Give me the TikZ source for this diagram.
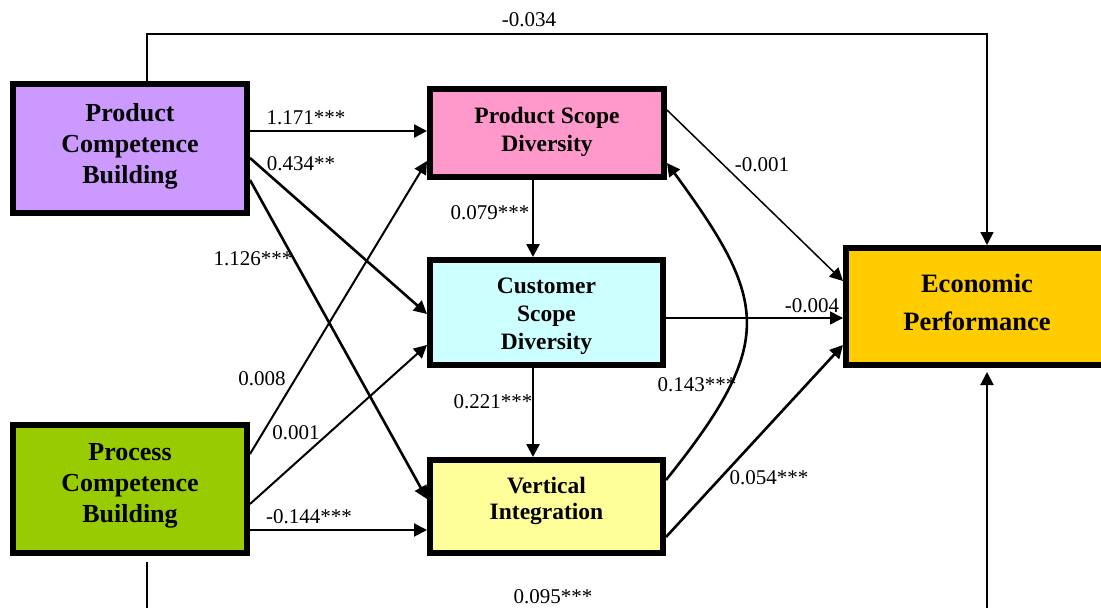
\documentclass[tikz,border=0pt]{standalone}
\usepackage{fontspec}
\setmainfont{Liberation Serif}
\usetikzlibrary{arrows.meta}
\definecolor{pcbfill}{HTML}{CC99FF}
\definecolor{procfill}{HTML}{99CC00}
\definecolor{psdfill}{HTML}{FF99CC}
\definecolor{csdfill}{HTML}{CCFFFF}
\definecolor{vifill}{HTML}{FFFF99}
\definecolor{econfill}{HTML}{FFCC00}
\begin{document}
\begin{tikzpicture}[x=1pt,y=-1pt,
  box/.style={draw=black, line width=6pt, rectangle, inner sep=0pt},
  sidetxt/.style={font=\fontsize{26}{31}\selectfont\bfseries, align=center, inner sep=0pt},
  midtxt/.style={font=\fontsize{23.5}{28}\selectfont\bfseries, align=center, inner sep=0pt},
  econtxt/.style={font=\fontsize{26.5}{38}\selectfont\bfseries, align=center, inner sep=0pt},
  coef/.style={font=\fontsize{21}{24}\selectfont, inner sep=0pt},
  tip/.style={-{Triangle[length=13pt,width=13pt]}},
  heavy/.style={tip, line width=2.6pt},
  medium/.style={tip, line width=2pt},
  light/.style={tip, line width=1.5pt},
]
\useasboundingbox (0,0) rectangle (1101,608);
\clip (0,0) rectangle (1101,608);
\fill[white] (0,0) rectangle (1101,608);

% construct boxes
\node[box, fill=pcbfill, minimum width=234pt, minimum height=129pt] (pcb) at (130,148.5) {};
\node[box, fill=procfill, minimum width=234pt, minimum height=128pt] (proc) at (130,489) {};
\node[box, fill=psdfill, minimum width=234pt, minimum height=88pt] (psd) at (547,133) {};
\node[box, fill=csdfill, minimum width=233pt, minimum height=105pt] (csd) at (546.5,312.5) {};
\node[box, fill=vifill, minimum width=233pt, minimum height=93pt] (vi) at (546.5,506.5) {};
\node[box, fill=econfill, minimum width=262pt, minimum height=117pt] (econ) at (977,306.5) {};

% box captions
\node[sidetxt] (pcbt) at (130,146) {Product\\Competence\\Building};
\node[sidetxt] (proct) at (130,486) {Process\\Competence\\Building};
\node[midtxt] (psdt) at (547,132) {Product Scope\\Diversity};
\node[midtxt] (csdt) at (546.5,316.5) {Customer\\Scope\\Diversity};
\node[midtxt, font=\fontsize{23.5}{26}\selectfont\bfseries] (vit) at (546.5,501) {Vertical\\Integration};
\node[econtxt] (econt) at (977,302) {Economic\\Performance};

% paths from product competence building
\draw[light] (pcb.north -| 147,0) |- (987,34) -- (econ.north -| 987,0);
\draw[heavy] (pcb.east |- 0,131) -- (psd.west |- 0,131);
\draw[heavy] (pcb.east |- 0,158) -- (csd.west |- 0,314);
\draw[heavy] (pcb.east |- 0,180) -- (vi.west |- 0,499);

% paths from process competence building
\draw[medium] (proc.east |- 0,454) -- (psd.west |- 0,161);
\draw[medium] (proc.east |- 0,504) -- (csd.west |- 0,345);
\draw[medium] (proc.east |- 0,530) -- (vi.west |- 0,530);
\draw[medium, shorten <=6pt, shorten >=4pt] (proc.south -| 147,0) -- (147,622) -- (987,622) -- (econ.south -| 987,0);

% paths among the mediators
\draw[heavy] (psd.south -| 533,0) -- (csd.north -| 533,0);
\draw[heavy] (csd.south -| 533,0) -- (vi.north -| 533,0);
\draw[heavy] (vi.east |- 0,480) .. controls (777,342) and (768,301) .. (psd.east |- 0,163);

% paths into economic performance
\draw[light] (psd.east |- 0,110) -- (econ.west |- 0,281);
\draw[light] (csd.east |- 0,318) -- (econ.west |- 0,318);
\draw[heavy] (vi.east |- 0,537) -- (econ.west |- 0,345);

% path coefficients
\node[coef] (c1) at (529,20) {-0.034};
\node[coef] (c2) at (306,118) {1.171***};
\node[coef] (c3) at (301,164) {0.434**};
\node[coef] (c4) at (253,259) {1.126***};
\node[coef] (c5) at (490,213) {0.079***};
\node[coef] (c6) at (762,165) {-0.001};
\node[coef] (c7) at (262,379) {0.008};
\node[coef] (c8) at (296,433) {0.001};
\node[coef] (c9) at (309,517) {-0.144***};
\node[coef] (c10) at (812,306) {-0.004};
\node[coef] (c11) at (697,385) {0.143***};
\node[coef] (c12) at (493,402) {0.221***};
\node[coef] (c13) at (769,478) {0.054***};
\node[coef] (c14) at (553,597) {0.095***};
\end{tikzpicture}
\end{document}
